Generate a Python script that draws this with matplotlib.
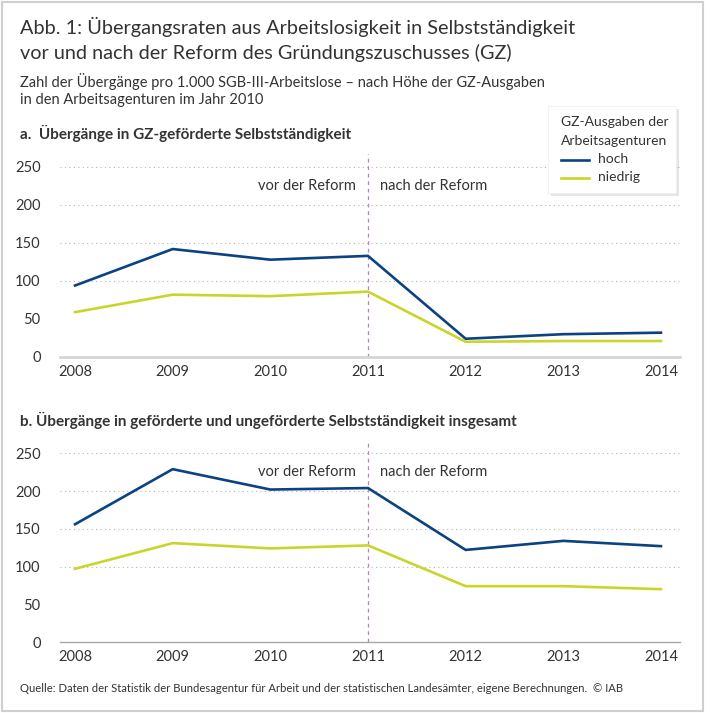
import matplotlib.pyplot as plt
from matplotlib.patches import Rectangle, FancyBboxPatch

plt.rcParams['font.family'] = ['Lato', 'DejaVu Sans']

# Data
years = [2008, 2009, 2010, 2011, 2012, 2013, 2014]
a_hoch = [94, 142, 128, 133, 24, 30, 32]
a_niedrig = [59, 82, 80, 86, 20, 21, 21]
b_hoch = [156, 229, 202, 204, 122, 134, 127]
b_niedrig = [97, 131, 124, 128, 74, 74, 70]
yticks = [0, 50, 100, 150, 200, 250]
grid_vals = [100, 150, 200, 250]

BLUE = '#0b4282'
GREEN = '#c8d62b'
TXT = '#333333'

W, H = 710, 713
fig = plt.figure(figsize=(W / 100, H / 100), dpi=100)


def fx(px):
    return px / W


def fy(py):
    return 1 - py / H


# outer frame
fig.patches.append(Rectangle((fx(2), fy(711)), fx(701), 709 / H, transform=fig.transFigure,
                             fill=False, edgecolor='#cfcfcf', linewidth=1.5))

fig.text(fx(20), fy(27), 'Abb. 1: Übergangsraten aus Arbeitslosigkeit in Selbstständigkeit',
         fontsize=14.3, color=TXT, va='center')
fig.text(fx(20), fy(53), 'vor und nach der Reform des Gründungszuschusses (GZ)',
         fontsize=14.3, color=TXT, va='center')
fig.text(fx(20), fy(81), 'Zahl der Übergänge pro 1.000 SGB-III-Arbeitslose – nach Höhe der GZ-Ausgaben',
         fontsize=10.5, color=TXT, va='center')
fig.text(fx(20), fy(100), 'in den Arbeitsagenturen im Jahr 2010',
         fontsize=10.5, color=TXT, va='center')
fig.text(fx(20), fy(133), 'a.  Übergänge in GZ-geförderte Selbstständigkeit',
         fontsize=11, color=TXT, va='center', fontweight='bold')
fig.text(fx(20), fy(420), 'b. Übergänge in geförderte und ungeförderte Selbstständigkeit insgesamt',
         fontsize=11, color=TXT, va='center', fontweight='bold')
fig.text(fx(20), fy(689), 'Quelle: Daten der Statistik der Bundesagentur für Arbeit und der statistischen '
         'Landesämter, eigene Berechnungen.  © IAB', fontsize=8.1, color=TXT, va='center')


def panel(top, bottom, hoch, niedrig, ytop, base_color, base_lw):
    ax = fig.add_axes([fx(60), fy(bottom), fx(620), (bottom - top) / H])
    ax.plot(years, hoch, color=BLUE, linewidth=1.9, solid_joinstyle='miter')
    ax.plot(years, niedrig, color=GREEN, linewidth=1.9, solid_joinstyle='miter')
    for g in grid_vals:
        ax.axhline(g, color='#b5b5b5', linewidth=0.8, linestyle=(0, (1, 3)), zorder=0)
    ax.axhline(0, color=base_color, linewidth=base_lw, zorder=1, clip_on=False)
    ax.axvline(2011, color='#b585b5', linewidth=0.9, linestyle=(0, (3, 3)), zorder=0)
    ax.text(2010.88, 225, 'vor der Reform', ha='right', va='center', fontsize=10.5, color=TXT)
    ax.text(2011.12, 225, 'nach der Reform', ha='left', va='center', fontsize=10.5, color=TXT)
    ax.set_xlim(2007.846, 2014.195)
    ax.set_ylim(0, ytop)
    ax.set_xticks(years)
    ax.set_xticklabels([str(y) for y in years])
    ax.set_yticks(yticks)
    ax.tick_params(length=0, labelsize=10.5, labelcolor=TXT)
    ax.tick_params(axis='y', pad=14)
    ax.tick_params(axis='x', pad=6)
    for s in ax.spines.values():
        s.set_visible(False)
    ax.patch.set_alpha(0)
    return ax


panel(154, 357, a_hoch, a_niedrig, 267, '#d5d5d5', 2.0)
panel(442, 642, b_hoch, b_niedrig, 265, '#a8a8a8', 1.0)

# legend box with shadow
lx0, ly0, lw, lh = 548, 106, 128, 87
fig.patches.append(FancyBboxPatch((fx(lx0 + 3), fy(ly0 + lh + 3)), fx(lw), lh / H, transform=fig.transFigure,
                                  boxstyle='square,pad=0', facecolor='#000000', alpha=0.10,
                                  edgecolor='none', zorder=5))
fig.patches.append(FancyBboxPatch((fx(lx0), fy(ly0 + lh)), fx(lw), lh / H, transform=fig.transFigure,
                                  boxstyle='square,pad=0', facecolor='white',
                                  edgecolor='#eeeeee', linewidth=0.5, zorder=6))
fig.text(fx(561), fy(122), 'GZ-Ausgaben der', fontsize=10, color=TXT, va='center', zorder=7)
fig.text(fx(561), fy(141), 'Arbeitsagenturen', fontsize=10, color=TXT, va='center', zorder=7)
for yy, col, lab in [(160, BLUE, 'hoch'), (178, GREEN, 'niedrig')]:
    fig.add_artist(plt.Line2D([fx(561), fx(589)], [fy(yy), fy(yy)], transform=fig.transFigure,
                              color=col, linewidth=1.9, zorder=7))
    fig.text(fx(598), fy(yy - 1), lab, fontsize=10, color=TXT, va='center', zorder=7)

plt.savefig('out.png', dpi=100)
